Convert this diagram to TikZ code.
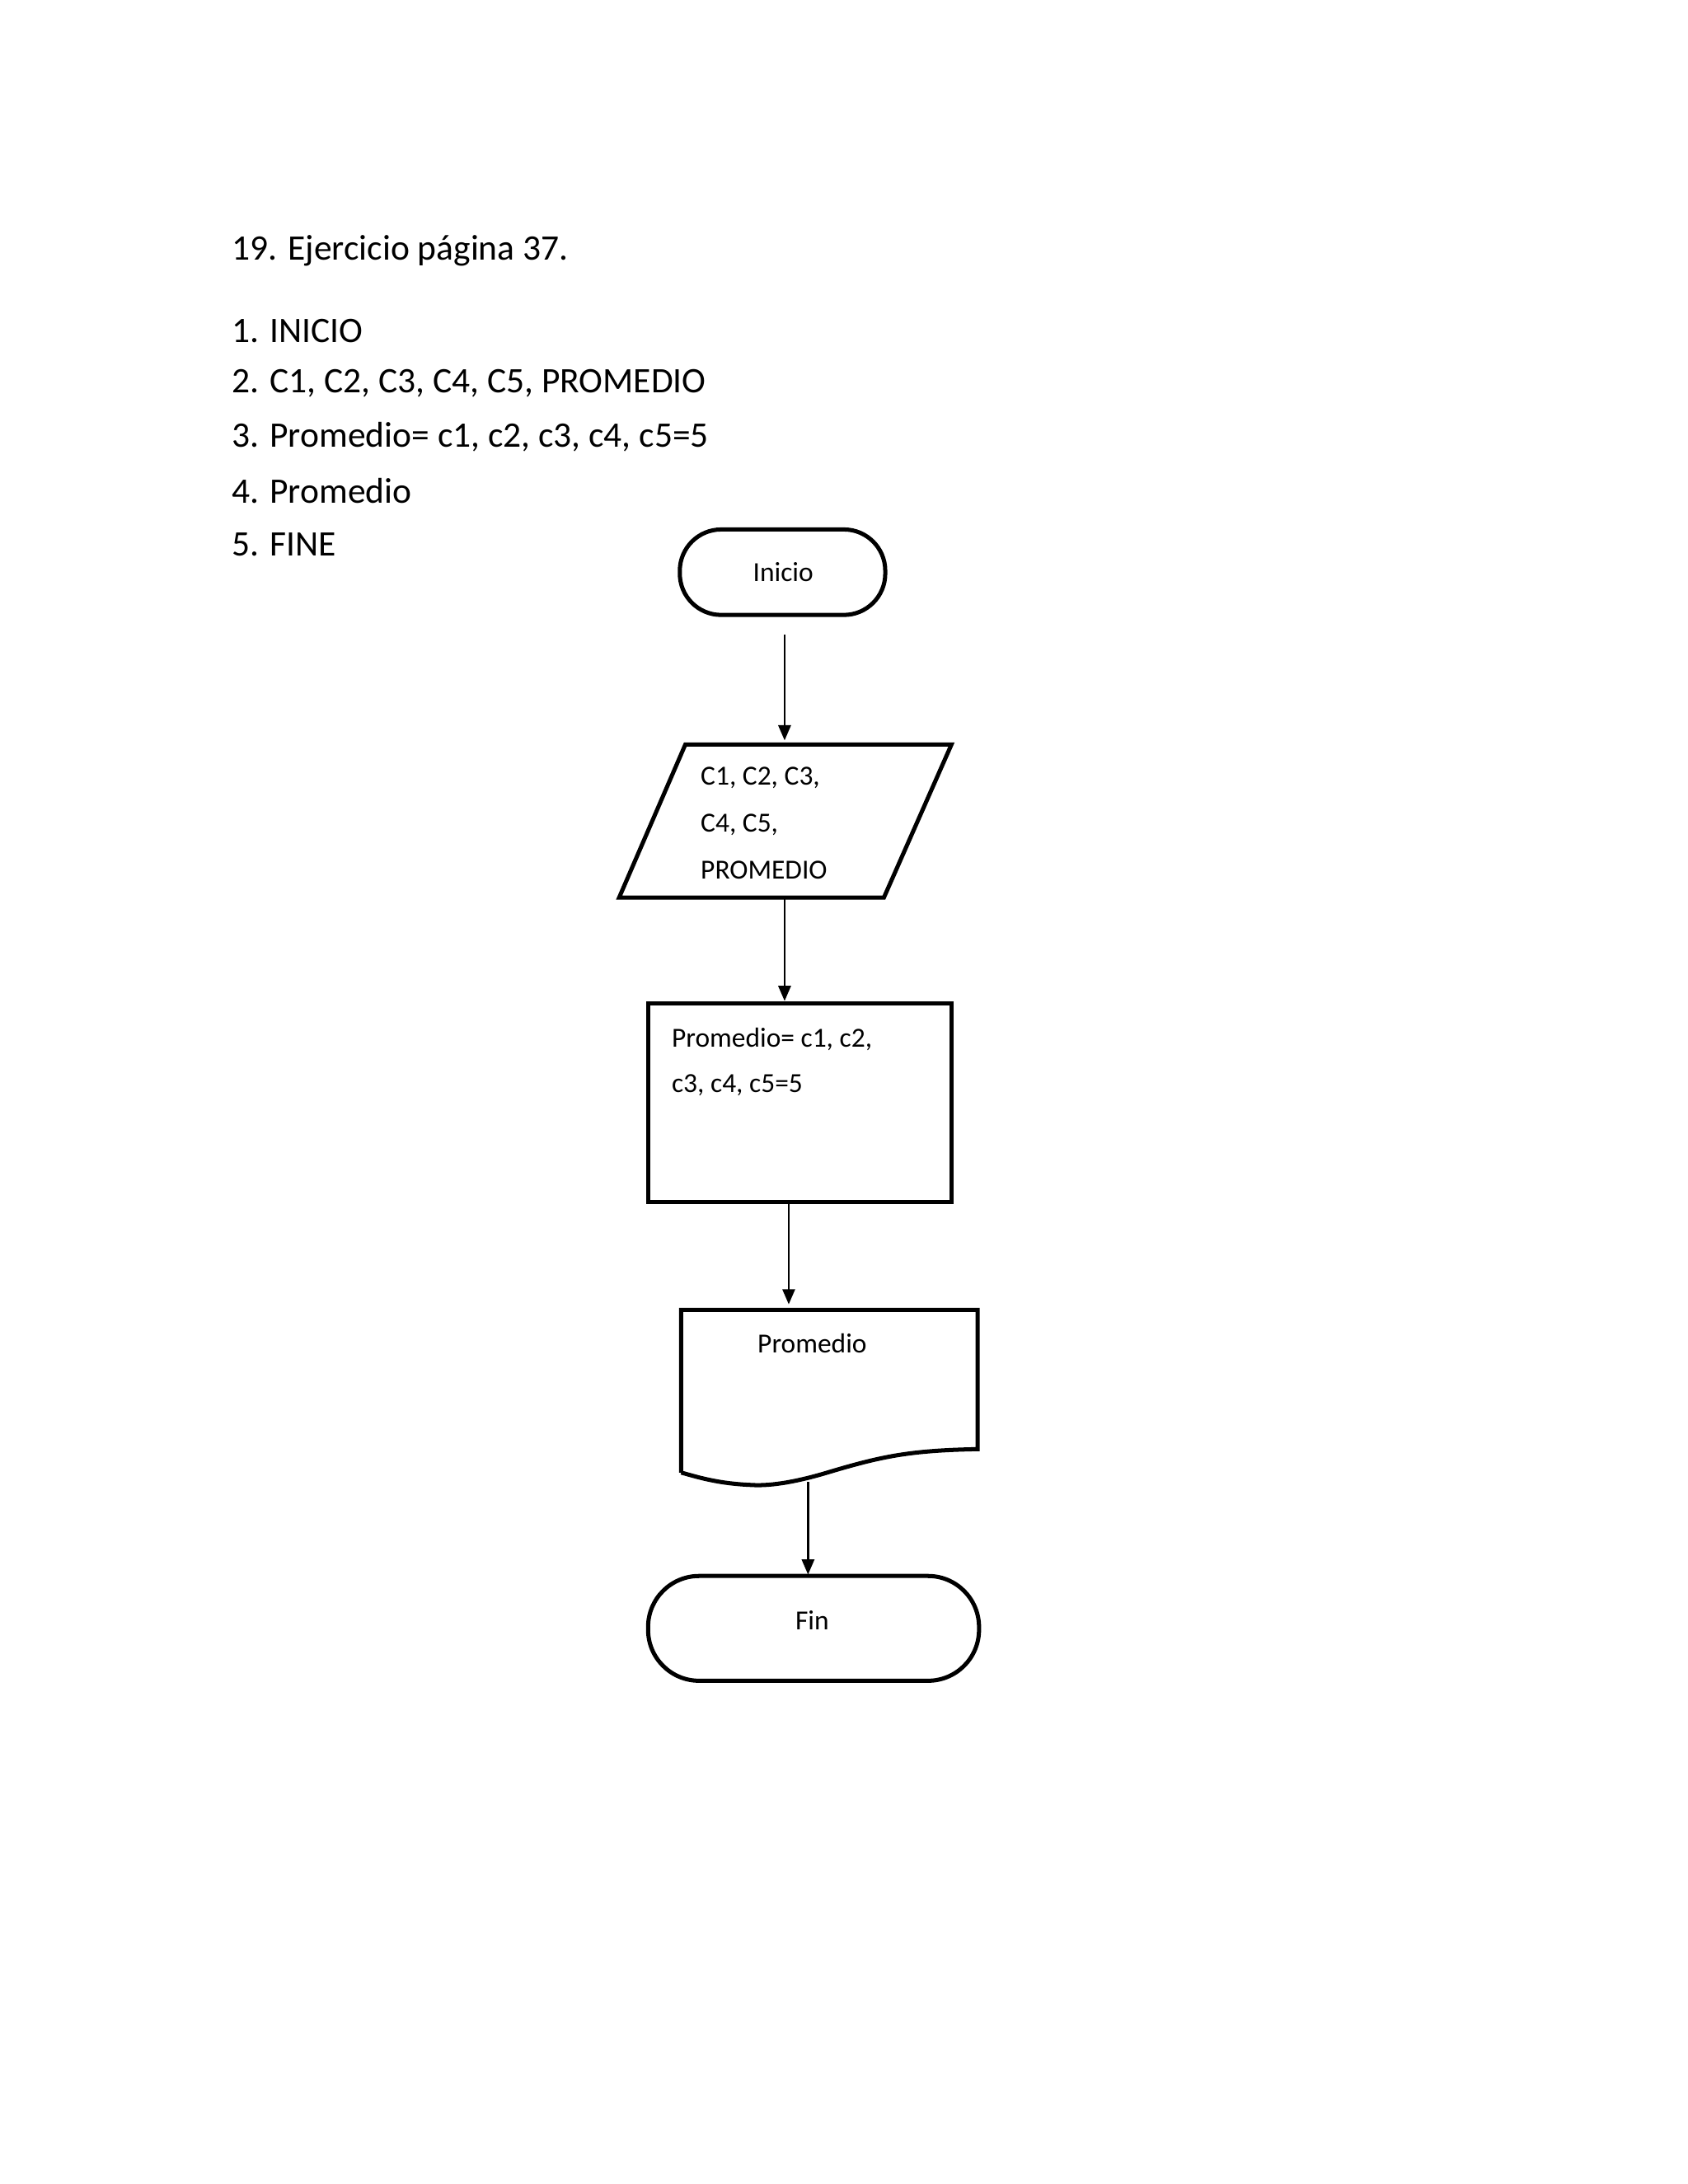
\documentclass[tikz,border=0pt]{standalone}
\usepackage{fontspec}
\setmainfont{Carlito}
\usetikzlibrary{arrows.meta}
\begin{document}
\begin{tikzpicture}[x=1pt,y=-1pt,
  shp/.style={line width=3pt},
  arr/.style={line width=1.6pt,-{Triangle[length=11pt,width=9pt]}},
  big/.style={font=\fontsize{26}{30}\selectfont,anchor=west,inner sep=0},
  sm/.style={font=\fontsize{20}{24}\selectfont,inner sep=0}]
\useasboundingbox (0,0) rectangle (1224,1584);
\node[big] (t0) at (168,182) {19. Ejercicio página 37.};
\node[big] (t1) at (168,240) {1. INICIO};
\node[big] (t2) at (168,278) {2. C1, C2, C3, C4, C5, PROMEDIO};
\node[big] (t3) at (168,317) {3. Promedio= c1, c2, c3, c4, c5=5};
\node[big] (t4) at (168,356) {4. Promedio};
\node[big] (t5) at (168,395) {5. FINE};
% Inicio
\draw[shp,rounded corners=30] (493,384) rectangle (642,446);
\node[sm] (ini) at (568,415) {Inicio};
\coordinate (a1) at (569,460);
\coordinate (p1) at (569,537);
\draw[arr] (a1) -- (p1);
% parallelogram
\draw[shp] (497,540) -- (690,540) -- (641,651) -- (449,651) -- cycle;
\node[sm,anchor=west] (pl1) at (508,564) {C1, C2, C3,};
\node[sm,anchor=west] (pl2) at (508,598) {C4, C5,};
\node[sm,anchor=west] (pl3) at (508,631) {PROMEDIO};
\coordinate (p1b) at (569,651);
\coordinate (r1) at (569,726);
\draw[arr] (p1b) -- (r1);
% rect
\draw[shp] (470,728) rectangle (690,872);
\node[sm,anchor=west] (rl1) at (487,754) {Promedio= c1, c2,};
\node[sm,anchor=west] (rl2) at (487,787) {c3, c4, c5=5};
\coordinate (r1b) at (572,872);
\coordinate (d1) at (572,946);
\draw[arr] (r1b) -- (d1);
% document
\draw[shp] (494,1068) -- (494,950) -- (709,950) -- (709,1051)
  .. controls (660,1052) and (640,1056) .. (600,1068)
  .. controls (580,1074) and (560,1078) .. (545,1077)
  .. controls (520,1076) and (505,1071) .. (494,1068);
\node[sm] (dl) at (589,974) {Promedio};
\coordinate (d1b) at (586,1075);
\coordinate (f1) at (586,1142);
\draw[arr] (d1b) -- (f1);
% Fin
\draw[shp,rounded corners=37] (470,1143) rectangle (710,1219);
\node[sm] (fin) at (589,1175) {Fin};
\end{tikzpicture}
\end{document}
